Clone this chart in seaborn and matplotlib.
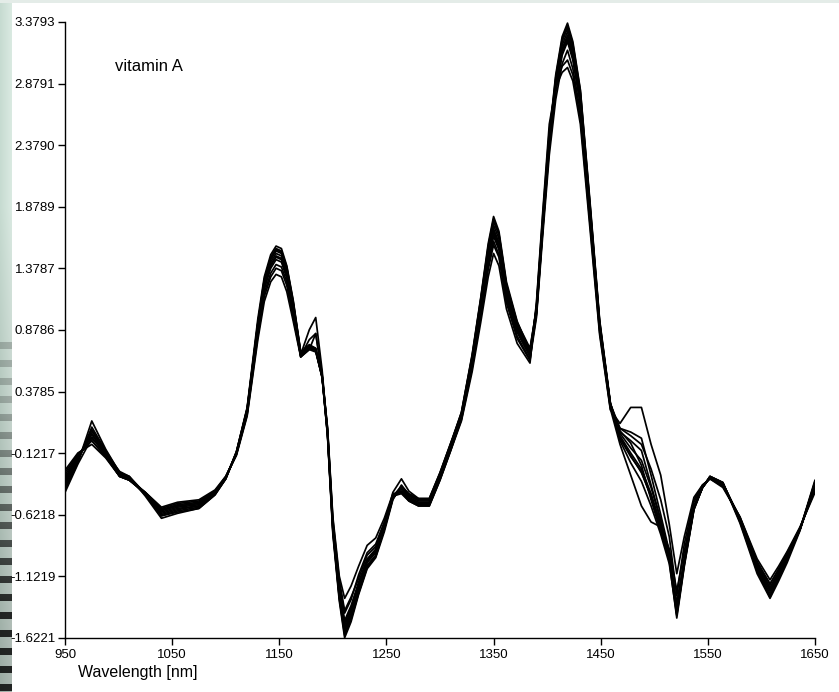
import numpy as np
import pandas as pd
import matplotlib
matplotlib.use("Agg")
import matplotlib.pyplot as plt
from matplotlib.patches import Rectangle
import seaborn as sns

# Wavelength grid (nm) shared by all spectra
wavelength = [950, 962, 975, 988, 1001, 1010, 1025, 1040, 1055, 1075,
              1090, 1100, 1110, 1120, 1130, 1136, 1142, 1147, 1152, 1157,
              1163, 1170, 1178, 1184, 1190, 1195, 1200, 1206, 1211, 1217,
              1224, 1232, 1240, 1248, 1256, 1264, 1271, 1280, 1290, 1300,
              1310, 1320, 1330, 1338, 1345, 1350, 1355, 1362, 1372, 1384,
              1390, 1396, 1402, 1408, 1414, 1419, 1424, 1431, 1440, 1449,
              1459, 1468, 1478, 1488, 1497, 1506, 1514, 1521, 1528, 1537,
              1545, 1552, 1564, 1580, 1596, 1608, 1616, 1624, 1636, 1650]

# Pretreated NIR spectra of the vitamin A samples
sample_01 = [-0.42, -0.20, 0.14, -0.09, -0.28, -0.31, -0.45, -0.63, -0.60, -0.57,
             -0.46, -0.33, -0.11, 0.25, 0.97, 1.31, 1.49, 1.56, 1.54, 1.40,
             1.12, 0.70, 0.76, 0.73, 0.50, 0.02, -0.78, -1.32, -1.62, -1.49,
             -1.27, -1.06, -0.97, -0.76, -0.50, -0.38, -0.46, -0.50, -0.50, -0.29,
             -0.05, 0.21, 0.68, 1.14, 1.58, 1.80, 1.68, 1.27, 0.95, 0.70,
             1.06, 1.78, 2.46, 2.95, 3.26, 3.37, 3.22, 2.83, 1.92, 0.96,
             0.29, 0.00, -0.15, -0.27, -0.48, -0.74, -1.00, -1.46, -1.04, -0.58,
             -0.40, -0.31, -0.36, -0.67, -1.07, -1.29, -1.13, -0.98, -0.74, -0.34]
sample_02 = [-0.26, -0.12, -0.05, -0.16, -0.31, -0.34, -0.44, -0.56, -0.52, -0.50,
             -0.42, -0.31, -0.14, 0.18, 0.80, 1.11, 1.27, 1.33, 1.31, 1.19,
             0.95, 0.66, 0.72, 0.70, 0.50, 0.09, -0.64, -1.12, -1.30, -1.20,
             -1.04, -0.87, -0.81, -0.65, -0.45, -0.44, -0.51, -0.55, -0.55, -0.34,
             -0.10, 0.14, 0.54, 0.94, 1.31, 1.50, 1.40, 1.05, 0.77, 0.61,
             1.10, 1.85, 2.55, 2.85, 2.97, 3.01, 2.90, 2.55, 1.70, 0.84,
             0.23, 0.12, 0.25, 0.25, -0.05, -0.30, -0.70, -1.10, -0.80, -0.48,
             -0.38, -0.33, -0.40, -0.64, -0.98, -1.15, -1.04, -0.92, -0.72, -0.44]
sample_03 = [-0.30, -0.14, -0.02, -0.15, -0.31, -0.34, -0.45, -0.58, -0.54, -0.52,
             -0.43, -0.32, -0.13, 0.19, 0.83, 1.15, 1.31, 1.38, 1.36, 1.24,
             0.98, 0.67, 0.73, 0.71, 0.50, 0.07, -0.68, -1.18, -1.42, -1.31,
             -1.11, -0.93, -0.86, -0.68, -0.46, -0.43, -0.50, -0.54, -0.54, -0.33,
             -0.09, 0.15, 0.57, 0.98, 1.37, 1.57, 1.47, 1.10, 0.81, 0.63,
             1.08, 1.82, 2.50, 2.86, 3.02, 3.07, 2.95, 2.60, 1.74, 0.86,
             0.24, -0.05, -0.30, -0.55, -0.68, -0.72, -0.90, -1.24, -0.92, -0.52,
             -0.39, -0.32, -0.38, -0.65, -1.01, -1.18, -1.07, -0.94, -0.73, -0.41]
sample_04 = [-0.36, -0.17, 0.07, -0.11, -0.29, -0.32, -0.45, -0.61, -0.57, -0.55,
             -0.45, -0.32, -0.12, 0.23, 0.93, 1.27, 1.45, 1.52, 1.50, 1.37,
             1.09, 0.68, 0.88, 0.98, 0.55, 0.04, -0.74, -1.28, -1.56, -1.44,
             -1.23, -1.03, -0.95, -0.74, -0.49, -0.40, -0.47, -0.51, -0.51, -0.30,
             -0.06, 0.19, 0.64, 1.09, 1.51, 1.73, 1.62, 1.22, 0.91, 0.70,
             1.03, 1.74, 2.41, 2.89, 3.19, 3.30, 3.15, 2.77, 1.87, 0.93,
             0.28, 0.08, 0.05, 0.00, -0.30, -0.62, -0.92, -1.42, -1.01, -0.57,
             -0.40, -0.32, -0.37, -0.66, -1.06, -1.26, -1.12, -0.98, -0.74, -0.37]
sample_05 = [-0.32, -0.15, 0.01, -0.14, -0.31, -0.34, -0.45, -0.59, -0.55, -0.53,
             -0.44, -0.32, -0.12, 0.21, 0.88, 1.21, 1.38, 1.45, 1.43, 1.30,
             1.04, 0.67, 0.80, 0.85, 0.50, 0.06, -0.70, -1.22, -1.48, -1.36,
             -1.17, -0.98, -0.90, -0.71, -0.47, -0.43, -0.49, -0.53, -0.53, -0.32,
             -0.08, 0.17, 0.60, 1.03, 1.43, 1.64, 1.53, 1.15, 0.86, 0.66,
             1.00, 1.70, 2.35, 2.81, 3.11, 3.22, 3.07, 2.71, 1.83, 0.91,
             0.27, 0.04, -0.08, -0.18, -0.40, -0.67, -0.94, -1.34, -0.98, -0.55,
             -0.40, -0.32, -0.37, -0.65, -1.02, -1.21, -1.09, -0.95, -0.74, -0.39]
sample_06 = [-0.38, -0.18, 0.06, -0.12, -0.29, -0.33, -0.46, -0.62, -0.58, -0.55,
             -0.45, -0.33, -0.12, 0.23, 0.91, 1.26, 1.43, 1.50, 1.48, 1.35,
             1.08, 0.69, 0.74, 0.71, 0.49, 0.04, -0.73, -1.27, -1.54, -1.42,
             -1.21, -1.01, -0.93, -0.72, -0.47, -0.39, -0.45, -0.49, -0.49, -0.28,
             -0.04, 0.19, 0.63, 1.07, 1.49, 1.70, 1.59, 1.20, 0.89, 0.69,
             1.02, 1.73, 2.39, 2.86, 3.16, 3.27, 3.12, 2.75, 1.86, 0.92,
             0.27, 0.00, -0.14, -0.28, -0.47, -0.71, -0.96, -1.40, -1.01, -0.56,
             -0.40, -0.32, -0.37, -0.66, -1.05, -1.24, -1.11, -0.97, -0.74, -0.37]
sample_07 = [-0.40, -0.19, 0.09, -0.10, -0.28, -0.32, -0.46, -0.63, -0.59, -0.56,
             -0.45, -0.33, -0.11, 0.24, 0.94, 1.29, 1.47, 1.54, 1.52, 1.39,
             1.11, 0.69, 0.75, 0.72, 0.49, 0.03, -0.75, -1.29, -1.58, -1.46,
             -1.25, -1.04, -0.96, -0.74, -0.49, -0.40, -0.46, -0.50, -0.50, -0.29,
             -0.05, 0.20, 0.66, 1.12, 1.54, 1.76, 1.65, 1.24, 0.93, 0.72,
             1.05, 1.76, 2.43, 2.91, 3.22, 3.33, 3.18, 2.80, 1.89, 0.94,
             0.28, 0.05, -0.02, -0.10, -0.38, -0.66, -0.97, -1.43, -1.02, -0.57,
             -0.40, -0.31, -0.36, -0.68, -1.08, -1.28, -1.14, -0.99, -0.74, -0.36]
sample_08 = [-0.34, -0.16, 0.03, -0.13, -0.30, -0.33, -0.44, -0.58, -0.55, -0.53,
             -0.44, -0.32, -0.13, 0.21, 0.89, 1.23, 1.40, 1.47, 1.45, 1.32,
             1.05, 0.68, 0.74, 0.72, 0.51, 0.06, -0.71, -1.23, -1.50, -1.38,
             -1.19, -0.99, -0.91, -0.71, -0.48, -0.43, -0.50, -0.54, -0.54, -0.33,
             -0.09, 0.17, 0.61, 1.05, 1.45, 1.66, 1.55, 1.17, 0.87, 0.67,
             1.01, 1.71, 2.37, 2.83, 3.13, 3.24, 3.09, 2.72, 1.84, 0.91,
             0.28, 0.06, -0.04, -0.22, -0.50, -0.76, -0.98, -1.36, -0.99, -0.56,
             -0.40, -0.32, -0.37, -0.65, -1.03, -1.22, -1.09, -0.95, -0.74, -0.39]
sample_09 = [-0.44, -0.21, 0.00, -0.12, -0.27, -0.31, -0.47, -0.65, -0.61, -0.57,
             -0.46, -0.33, -0.11, 0.24, 0.93, 1.28, 1.46, 1.53, 1.51, 1.38,
             1.10, 0.70, 0.75, 0.73, 0.50, 0.03, -0.76, -1.30, -1.60, -1.47,
             -1.26, -1.05, -0.96, -0.72, -0.44, -0.33, -0.43, -0.49, -0.49, -0.28,
             -0.04, 0.21, 0.67, 1.13, 1.56, 1.78, 1.66, 1.25, 0.94, 0.73,
             1.05, 1.77, 2.45, 2.93, 3.24, 3.35, 3.20, 2.82, 1.90, 0.95,
             0.28, -0.02, -0.20, -0.35, -0.55, -0.78, -1.02, -1.44, -1.03, -0.58,
             -0.40, -0.31, -0.36, -0.69, -1.10, -1.30, -1.16, -1.01, -0.75, -0.35]
sample_10 = [-0.28, -0.13, -0.02, -0.15, -0.31, -0.34, -0.44, -0.57, -0.53, -0.51,
             -0.43, -0.31, -0.13, 0.20, 0.85, 1.18, 1.34, 1.41, 1.39, 1.27,
             1.01, 0.66, 0.72, 0.85, 0.52, 0.08, -0.66, -1.15, -1.40, -1.29,
             -1.14, -0.95, -0.88, -0.69, -0.47, -0.45, -0.51, -0.55, -0.55, -0.34,
             -0.10, 0.16, 0.58, 1.00, 1.40, 1.60, 1.49, 1.12, 0.83, 0.64,
             0.98, 1.66, 2.30, 2.75, 3.04, 3.15, 3.00, 2.65, 1.78, 0.88,
             0.25, 0.08, 0.02, -0.05, -0.25, -0.50, -0.80, -1.28, -0.86, -0.50,
             -0.38, -0.33, -0.39, -0.64, -1.00, -1.19, -1.06, -0.93, -0.73, -0.42]
sample_11 = [-0.34, -0.16, 0.04, -0.13, -0.30, -0.33, -0.45, -0.60, -0.56, -0.54,
             -0.44, -0.32, -0.12, 0.22, 0.90, 1.24, 1.41, 1.48, 1.46, 1.33,
             1.06, 0.66, 0.74, 0.72, 0.50, 0.05, -0.72, -1.25, -1.52, -1.40,
             -1.20, -1.00, -0.92, -0.72, -0.48, -0.41, -0.48, -0.52, -0.52, -0.31,
             -0.07, 0.18, 0.62, 1.06, 1.47, 1.68, 1.57, 1.18, 0.88, 0.68,
             1.02, 1.72, 2.38, 2.85, 3.15, 3.26, 3.11, 2.74, 1.85, 0.92,
             0.27, 0.02, -0.12, -0.25, -0.45, -0.70, -0.95, -1.38, -1.00, -0.56,
             -0.40, -0.32, -0.37, -0.66, -1.04, -1.23, -1.10, -0.96, -0.74, -0.38]

x_tick_values = [950, 1050, 1150, 1250, 1350, 1450, 1550, 1650]
y_tick_values = [3.3793, 2.8791, 2.3790, 1.8789, 1.3787, 0.8786, 0.3785,
                 -0.1217, -0.6218, -1.1219, -1.6221]
y_tick_labels = ["3.3793", "2.8791", "2.3790", "1.8789", "1.3787", "0.8786", "0.3785",
                 "-0.1217", "-0.6218", "-1.1219", "-1.6221"]

samples = {
    "S01": sample_01, "S02": sample_02, "S03": sample_03, "S04": sample_04,
    "S05": sample_05, "S06": sample_06, "S07": sample_07, "S08": sample_08,
    "S09": sample_09, "S10": sample_10, "S11": sample_11,
}
df = pd.concat(
    [pd.DataFrame({"wavelength": wavelength, "absorbance": vals, "sample": name})
     for name, vals in samples.items()],
    ignore_index=True,
)

sns.set_style("white")
plt.rcParams["font.family"] = ["Liberation Sans", "DejaVu Sans"]

W, H = 839, 692
fig = plt.figure(figsize=(W / 100, H / 100), dpi=100)
fig.patch.set_facecolor("white")

# Window-frame strip along the left edge
strip_w = 12
rows = np.arange(H)[:, None]
cols = np.arange(strip_w)[None, :]
t = rows / (H - 1)
light = np.stack([0.78 + 0.08 * cols / strip_w + 0 * rows,
                  0.86 + 0.06 * cols / strip_w + 0 * rows,
                  0.82 + 0.07 * cols / strip_w + 0 * rows], axis=-1)
shade = 1.0 - 0.22 * np.clip((t - 0.3) / 0.7, 0, 1)
img = light * shade[..., None]
band = ((rows % 18) < 7) & (rows > 330)
dark_level = np.clip((rows - 330) / 280, 0.25, 1.0)
img = np.where(band[..., None] & np.ones_like(cols, dtype=bool)[..., None],
               img * (1 - 0.8 * dark_level[..., None]), img)
sax = fig.add_axes([0, 0, strip_w / W, 1])
sax.imshow(img, aspect="auto", interpolation="bilinear")
sax.set_axis_off()

# Thin light band along the top edge
fig.patches.append(Rectangle((0, 1 - 3 / H), 1, 3 / H, transform=fig.transFigure,
                             facecolor="#e4ece8", edgecolor="none", zorder=0))

ax = fig.add_axes([65 / W, 1 - 638 / H, 750 / W, 616 / H])
ax.set_facecolor("white")
sns.lineplot(data=df, x="wavelength", y="absorbance", units="sample", estimator=None,
             color="black", linewidth=1.25, legend=False, ax=ax)

ax.set_xlim(950, 1650)
ax.set_ylim(-1.6221, 3.3793)
ax.set_xticks(x_tick_values)
ax.set_yticks(y_tick_values, labels=y_tick_labels)
ax.set_xlabel("")
ax.set_ylabel("")
for side in ("top", "right"):
    ax.spines[side].set_visible(False)
for side in ("left", "bottom"):
    ax.spines[side].set_color("black")
    ax.spines[side].set_linewidth(1.0)
ax.tick_params(axis="both", which="major", direction="out", length=5, width=1,
               color="black", labelcolor="black", labelsize=9.5,
               bottom=True, left=True)
ax.tick_params(axis="y", pad=2)
ax.tick_params(axis="x", pad=3)

fig.text(78 / W, 1 - 677 / H, "Wavelength [nm]", fontsize=11.5, ha="left",
         va="baseline", color="black")
fig.text(115 / W, 1 - 71 / H, "vitamin A", fontsize=12, ha="left",
         va="baseline", color="black")

fig.savefig("out.png", dpi=100, facecolor="white")
